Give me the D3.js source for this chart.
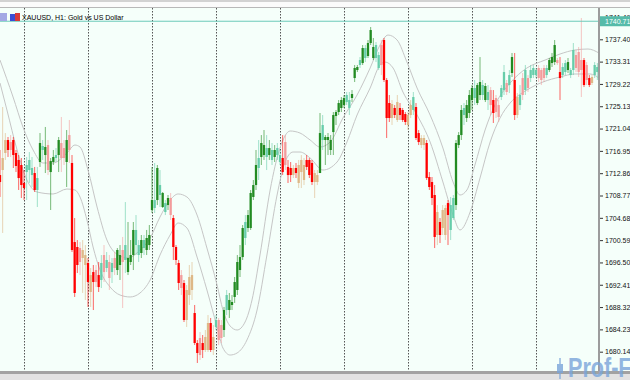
<!DOCTYPE html>
<html>
<head>
<meta charset="utf-8">
<script src="https://cdn.jsdelivr.net/npm/d3@7"></script>
<style>
  body { margin: 0; background: #fff; }
  svg { display: block; }
</style>
</head>
<body>
<svg id="chart" width="630" height="380"></svg>
<script>
// chart title and last price
const chartTitle = "XAUUSD, H1:  Gold vs US Dollar";
const lastPrice = 1740.71;

// price scale labels on the right
const priceTicks = [1741.49, 1737.40, 1733.31, 1729.22, 1725.13, 1721.04, 1716.95, 1712.86,
  1708.77, 1704.68, 1700.59, 1696.50, 1692.41, 1688.32, 1684.23, 1680.14];

// first bar of each day (period separators)
const dayStarts = [9, 33, 57, 81, 105, 129, 153, 177, 201];

// H1 bars
const opens = [
  1712.52, 1713.44, 1716.56, 1718.94, 1718.57, 1718.94, 1716.56, 1715.28, 1714.36, 1711.06,
  1713.07, 1713.44, 1712.52, 1712.89, 1709.78, 1714.91, 1717.11, 1716.19, 1718.02, 1713.07,
  1714.91, 1715.64, 1716.19, 1718.39, 1717.47, 1714.91, 1719.85, 1714.73, 1700.24, 1699.33,
  1699.14, 1697.31, 1696.03, 1696.40, 1691.08, 1694.74, 1695.11, 1694.19, 1693.28, 1697.86,
  1695.48, 1696.58, 1694.74, 1697.31, 1695.11, 1696.03, 1698.78, 1696.95, 1694.74, 1696.58,
  1697.86, 1699.69, 1697.86, 1698.23, 1699.14, 1698.78, 1699.69, 1706.11, 1706.48, 1707.94,
  1708.86, 1706.66, 1705.74, 1707.02, 1708.31, 1704.64, 1699.33, 1696.40, 1694.19, 1692.73,
  1685.95, 1690.53, 1691.45, 1687.23, 1681.73, 1682.65, 1681.73, 1680.45, 1680.45, 1685.40,
  1680.45, 1684.67, 1685.95, 1685.03, 1684.12, 1687.78, 1687.78, 1688.70, 1690.17, 1691.45,
  1695.11, 1697.49, 1700.98, 1702.81, 1702.81, 1708.50, 1710.69, 1713.81, 1715.83, 1716.19,
  1715.83, 1716.19, 1715.28, 1715.83, 1716.19, 1714.91, 1715.64, 1718.57, 1714.00, 1713.81,
  1712.52, 1713.81, 1711.06, 1713.07, 1711.61, 1715.28, 1715.28, 1714.73, 1711.24, 1711.24,
  1712.89, 1718.94, 1718.94, 1718.94, 1717.11, 1720.40, 1723.34, 1724.07, 1724.81, 1725.35,
  1725.90, 1724.81, 1726.64, 1730.30, 1731.77, 1732.69, 1733.05, 1733.97, 1734.34, 1736.72,
  1733.97, 1733.97, 1732.14, 1736.35, 1737.27, 1729.94, 1725.72, 1722.97, 1724.81, 1722.61,
  1724.81, 1724.44, 1723.70, 1721.69, 1723.52, 1724.44, 1724.99, 1720.22, 1718.02, 1718.02,
  1718.39, 1712.16, 1711.24, 1708.86, 1701.53, 1703.91, 1702.81, 1701.53, 1707.39, 1702.45,
  1704.64, 1707.02, 1718.02, 1719.85, 1723.52, 1722.97, 1723.89, 1726.27, 1726.64, 1725.72,
  1727.19, 1727.19, 1726.27, 1726.27, 1728.10, 1726.27, 1726.64, 1725.35, 1726.82, 1728.10,
  1729.39, 1729.02, 1731.22, 1729.94, 1723.52, 1725.35, 1730.30, 1728.10, 1730.30, 1730.30,
  1730.85, 1730.85, 1732.14, 1731.77, 1732.14, 1730.85, 1731.77, 1733.05, 1733.23, 1733.60,
  1731.40, 1730.85, 1731.40, 1731.77, 1730.85, 1731.77, 1734.52, 1735.07, 1733.60, 1733.60,
  1732.69, 1730.30, 1729.39, 1730.85, 1731.40
];
const highs = [
  1717.11, 1724.99, 1720.22, 1719.49, 1719.85, 1719.49, 1717.11, 1716.19, 1715.64, 1713.44,
  1715.83, 1716.74, 1715.83, 1714.00, 1714.00, 1720.22, 1718.94, 1721.33, 1718.94, 1715.64,
  1717.11, 1717.47, 1719.49, 1723.16, 1718.94, 1720.77, 1722.61, 1716.19, 1704.64, 1700.61,
  1700.24, 1700.61, 1699.69, 1697.31, 1695.48, 1696.03, 1696.03, 1696.58, 1697.86, 1699.69,
  1698.41, 1697.86, 1697.31, 1698.41, 1699.14, 1699.69, 1701.17, 1707.57, 1703.91, 1700.61,
  1703.91, 1705.19, 1700.61, 1701.53, 1701.53, 1702.45, 1703.36, 1714.00, 1714.73, 1714.36,
  1713.44, 1709.41, 1707.94, 1708.86, 1709.23, 1705.19, 1699.69, 1696.95, 1695.11, 1693.28,
  1692.36, 1696.03, 1696.58, 1688.70, 1682.28, 1683.75, 1683.20, 1684.12, 1686.86, 1686.32,
  1685.03, 1686.86, 1686.32, 1685.95, 1688.34, 1691.45, 1690.90, 1690.53, 1693.83, 1697.86,
  1699.69, 1703.36, 1705.19, 1706.11, 1709.78, 1711.61, 1717.11, 1718.94, 1719.85, 1720.77,
  1719.85, 1718.94, 1718.39, 1718.02, 1718.39, 1717.11, 1719.85, 1719.85, 1715.28, 1714.91,
  1714.36, 1714.73, 1715.28, 1716.19, 1715.64, 1716.19, 1715.64, 1715.28, 1713.44, 1713.44,
  1723.89, 1723.52, 1719.85, 1720.22, 1719.85, 1724.07, 1724.44, 1726.27, 1726.82, 1727.19,
  1727.74, 1727.74, 1728.10, 1732.69, 1732.69, 1734.15, 1736.35, 1736.35, 1737.27, 1739.65,
  1737.64, 1736.90, 1735.07, 1737.27, 1737.64, 1730.30, 1727.19, 1726.27, 1725.35, 1727.19,
  1725.72, 1724.81, 1724.07, 1724.07, 1726.27, 1727.74, 1725.72, 1720.77, 1719.85, 1719.85,
  1718.94, 1713.07, 1712.16, 1710.69, 1707.02, 1704.64, 1707.02, 1707.02, 1707.94, 1708.50,
  1708.86, 1718.94, 1720.40, 1725.35, 1725.72, 1726.27, 1728.10, 1729.02, 1729.94, 1729.39,
  1734.15, 1729.94, 1729.39, 1729.02, 1728.65, 1728.10, 1727.19, 1726.27, 1729.02, 1732.69,
  1729.94, 1731.77, 1734.89, 1734.89, 1727.55, 1729.02, 1731.22, 1732.69, 1730.85, 1732.69,
  1732.69, 1732.14, 1732.69, 1732.14, 1732.69, 1732.69, 1733.97, 1734.89, 1737.27, 1733.97,
  1734.15, 1733.05, 1733.60, 1733.97, 1732.14, 1736.72, 1735.44, 1735.99, 1741.30, 1733.97,
  1733.23, 1730.85, 1730.85, 1733.23, 1733.05
];
const lows = [
  1708.50, 1701.90, 1715.28, 1715.83, 1715.83, 1713.81, 1713.07, 1709.78, 1708.31, 1707.94,
  1707.94, 1711.06, 1710.33, 1709.41, 1706.66, 1714.00, 1715.28, 1712.89, 1712.52, 1706.11,
  1714.36, 1714.91, 1713.07, 1713.07, 1714.36, 1710.33, 1714.73, 1698.41, 1690.17, 1694.56,
  1694.19, 1690.90, 1689.62, 1688.34, 1688.34, 1687.78, 1691.99, 1691.08, 1691.81, 1692.91,
  1694.74, 1691.45, 1692.73, 1694.19, 1694.19, 1693.28, 1688.15, 1694.56, 1694.19, 1696.03,
  1695.11, 1697.86, 1696.58, 1697.31, 1697.86, 1697.86, 1698.78, 1705.56, 1705.56, 1707.02,
  1706.66, 1706.48, 1705.19, 1706.11, 1704.28, 1696.95, 1696.03, 1691.45, 1690.53, 1685.58,
  1684.67, 1688.70, 1689.62, 1681.36, 1678.07, 1678.62, 1678.98, 1680.08, 1680.08, 1680.08,
  1679.53, 1684.12, 1681.36, 1681.73, 1682.84, 1686.86, 1686.32, 1687.78, 1689.07, 1690.53,
  1693.83, 1696.95, 1699.69, 1702.08, 1702.45, 1707.94, 1709.78, 1711.61, 1714.36, 1715.28,
  1713.44, 1715.28, 1714.36, 1714.91, 1715.28, 1714.36, 1712.52, 1713.44, 1711.06, 1711.24,
  1711.97, 1711.97, 1710.14, 1710.14, 1710.69, 1713.44, 1711.97, 1710.69, 1708.31, 1710.69,
  1712.89, 1717.11, 1714.36, 1716.19, 1716.19, 1716.19, 1721.69, 1723.52, 1724.07, 1724.81,
  1725.35, 1723.52, 1725.90, 1729.57, 1731.40, 1732.14, 1732.69, 1733.23, 1733.97, 1736.35,
  1733.60, 1733.23, 1731.77, 1730.85, 1729.57, 1719.31, 1722.24, 1721.69, 1722.97, 1722.24,
  1722.61, 1722.24, 1721.69, 1720.77, 1722.97, 1723.52, 1718.94, 1718.02, 1717.47, 1717.11,
  1711.61, 1709.78, 1707.02, 1699.14, 1699.69, 1700.06, 1701.53, 1700.61, 1699.69, 1700.61,
  1704.28, 1706.11, 1717.47, 1718.94, 1721.69, 1722.24, 1722.97, 1724.44, 1725.35, 1725.35,
  1726.27, 1726.27, 1725.90, 1724.44, 1723.52, 1722.06, 1722.97, 1722.24, 1726.27, 1727.19,
  1727.19, 1727.55, 1730.49, 1722.61, 1722.97, 1724.44, 1726.27, 1727.19, 1727.74, 1729.57,
  1730.30, 1730.30, 1729.57, 1729.02, 1729.57, 1730.30, 1731.40, 1732.32, 1732.69, 1732.69,
  1726.27, 1730.30, 1730.85, 1731.22, 1730.30, 1730.85, 1731.40, 1730.49, 1726.82, 1728.65,
  1729.02, 1728.65, 1729.02, 1730.30, 1729.94
];
const closes = [
  1711.24, 1715.64, 1718.94, 1717.11, 1717.11, 1716.19, 1714.18, 1711.97, 1710.69, 1710.14,
  1714.36, 1715.28, 1713.81, 1709.78, 1711.97, 1718.39, 1717.84, 1717.66, 1713.44, 1715.10,
  1715.83, 1716.19, 1718.94, 1715.64, 1715.64, 1718.94, 1717.11, 1698.78, 1690.90, 1696.03,
  1696.58, 1698.78, 1697.86, 1692.91, 1694.19, 1692.91, 1692.91, 1691.99, 1696.40, 1694.74,
  1696.95, 1693.65, 1696.40, 1695.48, 1698.78, 1697.86, 1696.58, 1699.69, 1697.31, 1697.86,
  1702.45, 1702.45, 1699.69, 1700.61, 1700.61, 1700.98, 1701.53, 1707.94, 1707.94, 1713.81,
  1710.69, 1709.23, 1707.39, 1708.31, 1705.19, 1699.33, 1696.95, 1692.73, 1691.81, 1685.95,
  1691.45, 1693.83, 1694.19, 1681.73, 1679.90, 1679.53, 1680.45, 1682.84, 1685.40, 1680.45,
  1682.84, 1685.95, 1682.28, 1682.65, 1687.78, 1690.53, 1689.62, 1689.25, 1692.91, 1696.58,
  1697.49, 1702.81, 1703.91, 1705.19, 1709.23, 1710.69, 1714.36, 1715.64, 1718.39, 1718.02,
  1717.47, 1717.47, 1717.11, 1717.11, 1717.47, 1716.19, 1713.07, 1714.36, 1712.52, 1712.52,
  1713.81, 1712.89, 1714.36, 1715.28, 1714.36, 1714.00, 1712.52, 1711.24, 1712.89, 1712.52,
  1720.22, 1721.69, 1719.49, 1719.49, 1718.94, 1723.52, 1724.07, 1725.72, 1726.27, 1726.64,
  1727.19, 1726.27, 1727.37, 1732.14, 1732.32, 1733.60, 1735.80, 1735.80, 1736.72, 1739.10,
  1735.99, 1736.35, 1734.52, 1732.69, 1729.94, 1722.97, 1722.97, 1725.54, 1723.52, 1725.90,
  1723.52, 1722.61, 1722.24, 1723.52, 1725.35, 1726.82, 1719.31, 1718.57, 1719.31, 1719.31,
  1711.97, 1710.33, 1708.31, 1701.17, 1705.74, 1701.53, 1706.11, 1706.48, 1705.19, 1707.02,
  1708.31, 1718.39, 1719.85, 1724.44, 1724.81, 1725.35, 1727.19, 1728.47, 1728.47, 1729.02,
  1729.57, 1729.02, 1728.84, 1727.74, 1725.35, 1723.89, 1724.07, 1723.16, 1728.47, 1731.40,
  1727.74, 1730.85, 1734.15, 1723.52, 1726.82, 1727.19, 1727.19, 1731.77, 1728.47, 1731.77,
  1732.14, 1731.77, 1730.30, 1729.94, 1730.30, 1732.14, 1733.60, 1734.15, 1736.35, 1733.05,
  1730.30, 1732.32, 1733.05, 1733.23, 1731.77, 1735.44, 1732.14, 1731.40, 1731.77, 1729.02,
  1729.94, 1729.02, 1730.49, 1732.69, 1732.32
];
// bar colour class: G green, T aquamarine, R red, P pink, N burlywood
const kinds = (
  "RNNRPRRRRR" + "TTTRTGTGPG" + "GTGPPGPRRR" + "PNNRNRPRTP" + "TPTPGGPTGG" +
  "GTTGTGGGTG" + "TGTGPRRRPR" + "NNNRRPRNNR" + "NTPPGTGGGG" + "GGTGGGGTGG" +
  "TGTGTTRPRR" + "NRNNNRRRNN" + "GTGGGGGGGG" + "TTGGGTGTGG" + "GTTPRRRNRN" +
  "RRRNNTRRNN" + "RRRRNRNNRT" + "TGGGTGGGTG" + "GTGTPRPPTT" + "PTGRNTPTPT" +
  "TTPPPTGGGP" + "RTTGTTPPPR" + "PRNTT").split("");

// envelope bands (bar index, price)
const upperIdx = [0, 4.9, 8.6, 12.4, 16.1, 19.9, 25.1, 28.1, 30, 33, 36.4, 40.1, 44.3, 48, 52.5, 56.3,
  60, 63.8, 66.8, 70.1, 73.9, 77.6, 81.4, 83.6, 86.3, 88.9, 91.9, 94.5, 97.5, 101.3, 105, 108.8,
  112.5, 116.3, 120, 123.8, 128.6, 133.9, 138.8, 142.5, 145.5, 148.9, 152.6, 156.4, 161.3, 166.1,
  169.9, 172.5, 175.1, 178.1, 181.9, 185.6, 191.3, 197.6, 204.4, 210, 215.6, 220.5, 224.6];
const upperBand = [1733.60, 1726.82, 1721.33, 1717.11, 1714.73, 1714.73, 1716.56, 1718.02, 1717.66,
  1713.44, 1706.66, 1700.61, 1697.86, 1697.31, 1698.78, 1700.98, 1704.83, 1707.94, 1709.05, 1708.50,
  1705.19, 1699.14, 1692.36, 1687.78, 1684.85, 1684.12, 1685.58, 1689.62, 1697.86, 1709.78, 1717.47,
  1720.59, 1720.22, 1718.94, 1717.66, 1718.57, 1722.97, 1727.19, 1732.14, 1736.35, 1738.18, 1737.27,
  1733.23, 1728.47, 1723.52, 1717.47, 1711.24, 1708.86, 1709.78, 1714.36, 1720.77, 1725.35, 1729.39,
  1732.14, 1733.60, 1734.70, 1735.44, 1735.62, 1734.89];
const lowerIdx = [0, 2.6, 6.4, 10.1, 13.9, 19.9, 25.1, 28.1, 30, 32.6, 34.9, 37.5, 41.3, 45, 48.8,
  52.5, 56.3, 60, 63.8, 66.8, 70.1, 73.9, 77.6, 81.4, 83.6, 86.3, 88.9, 92.6, 96.4, 100.1, 103.9,
  106.9, 109.9, 112.5, 116.3, 121.1, 126.4, 130.1, 133.9, 138.8, 142.5, 144.4, 147.4, 151.1, 156.4,
  161.3, 166.1, 169.9, 172.5, 176.3, 180, 183.8, 187.5, 191.3, 197.6, 203.6, 210, 215.6, 221.3, 224.6];
const lowerBand = [1729.39, 1724.44, 1717.11, 1711.61, 1709.41, 1709.05, 1709.96, 1709.78, 1708.50,
  1704.28, 1699.33, 1695.11, 1691.99, 1690.53, 1690.17, 1690.90, 1693.28, 1697.86, 1701.53, 1703.73,
  1702.81, 1697.49, 1691.45, 1684.67, 1680.82, 1679.53, 1679.90, 1682.28, 1687.78, 1697.86, 1708.86,
  1714.91, 1716.74, 1716.74, 1715.64, 1713.44, 1714.91, 1718.57, 1723.52, 1728.47, 1732.69, 1733.23,
  1732.14, 1727.74, 1723.52, 1718.57, 1711.24, 1705.19, 1702.45, 1705.74, 1711.97, 1718.57, 1722.97,
  1725.72, 1728.10, 1729.57, 1730.49, 1731.04, 1731.04, 1730.30];

const colors = {G: "#228b22", T: "#66cdaa", R: "#ff0000", P: "#f39c9c", N: "#deb887"};
const font = "'Liberation Sans', Arial, sans-serif";

const W = 630, H = 380;
const plotTop = 8, plotBottom = 371, plotRight = 599;

const svg = d3.select("#chart");

// scales: 225 bars across the plot, price on the right axis
const x = d3.scaleLinear().domain([0, 225]).range([0, 600]);
const y = d3.scaleLinear().domain([1680.14, 1737.40]).range([351.7, 39.3]);

// background + window frame
svg.append("rect").attr("width", W).attr("height", H).attr("fill", "#f5fffa");
svg.append("rect").attr("width", W).attr("height", 2).attr("fill", "#d2d2d2");
svg.append("rect").attr("y", 2).attr("width", W).attr("height", 5).attr("fill", "#fbfbfb");
svg.append("rect").attr("y", 7).attr("width", W).attr("height", 1).attr("fill", "#b8b8b8");
svg.append("rect").attr("y", plotBottom).attr("width", W).attr("height", 3).attr("fill", "#a2a2a2");
svg.append("rect").attr("y", plotBottom + 3).attr("width", W).attr("height", H - plotBottom - 3).attr("fill", "#e2e2e2");

svg.append("clipPath").attr("id", "plotClip")
  .append("rect").attr("x", 0).attr("y", plotTop)
  .attr("width", plotRight).attr("height", plotBottom - plotTop);

const plot = svg.append("g").attr("clip-path", "url(#plotClip)");

// period separators
plot.selectAll(".sep")
  .data(dayStarts)
  .enter()
  .append("line")
    .attr("x1", d => Math.round(x(d)) + 0.5)
    .attr("x2", d => Math.round(x(d)) + 0.5)
    .attr("y1", plotTop)
    .attr("y2", plotBottom)
    .attr("stroke", "#555")
    .attr("stroke-width", 1)
    .attr("stroke-dasharray", "1.5,1.5");

// bands
const bandLine = d3.line()
  .x(d => x(d[0]))
  .y(d => y(d[1]))
  .curve(d3.curveMonotoneX);

plot.append("path")
  .datum(upperIdx.map((d, i) => [d, upperBand[i]]))
  .attr("fill", "none")
  .attr("stroke", "#c6c6c6")
  .attr("stroke-width", 1)
  .attr("d", bandLine);

plot.append("path")
  .datum(lowerIdx.map((d, i) => [d, lowerBand[i]]))
  .attr("fill", "none")
  .attr("stroke", "#c6c6c6")
  .attr("stroke-width", 1)
  .attr("d", bandLine);

// candles
const bars = opens.map((o, i) => ({i: i, o: o, h: highs[i], l: lows[i], c: closes[i], k: kinds[i]}));

const candle = plot.append("g")
  .selectAll("g")
  .data(bars)
  .enter()
  .append("g");

candle.append("line")
  .attr("x1", d => x(d.i))
  .attr("x2", d => x(d.i))
  .attr("y1", d => y(d.h))
  .attr("y2", d => y(d.l))
  .attr("stroke", d => colors[d.k])
  .attr("stroke-opacity", 0.6)
  .attr("stroke-width", 1);

candle.append("rect")
  .attr("x", d => x(d.i) - 1.15)
  .attr("width", 2.3)
  .attr("y", d => y(Math.max(d.o, d.c)))
  .attr("height", d => Math.max(1, y(Math.min(d.o, d.c)) - y(Math.max(d.o, d.c))))
  .attr("fill", d => colors[d.k]);

// bid line
plot.append("line")
  .attr("x1", 0).attr("x2", plotRight)
  .attr("y1", y(lastPrice)).attr("y2", y(lastPrice))
  .attr("stroke", "#6ccab9")
  .attr("stroke-width", 1);

// right price axis
svg.append("rect").attr("x", 598).attr("y", plotTop).attr("width", 2)
  .attr("height", plotBottom - plotTop).attr("fill", "#9c9c9c");

const axis = d3.axisRight(y)
  .tickValues(priceTicks)
  .tickFormat(d3.format(".2f"))
  .tickSize(3)
  .tickPadding(2)
  .tickSizeOuter(0);

const gAxis = svg.append("g")
  .attr("transform", "translate(600,0)")
  .call(axis);
gAxis.select(".domain").remove();
gAxis.attr("font-family", font).attr("font-size", 7);
gAxis.selectAll("line").attr("stroke", "#333");
gAxis.selectAll("text").attr("fill", "#111");

// last price tag
svg.append("rect")
  .attr("x", 600).attr("y", y(lastPrice) - 5)
  .attr("width", 30).attr("height", 10)
  .attr("fill", "#55bba9");
svg.append("text")
  .attr("x", 605).attr("y", y(lastPrice))
  .attr("dy", "0.35em")
  .attr("font-family", font).attr("font-size", 7)
  .attr("fill", "#fff")
  .text(d3.format(".2f")(lastPrice));

// title with small icon
svg.append("rect").attr("x", 0).attr("y", 13).attr("width", 7).attr("height", 8).attr("fill", "#a4a8e4");
svg.append("rect").attr("x", 10).attr("y", 14).attr("width", 5).attr("height", 7).attr("fill", "#3a4fd6");
svg.append("rect").attr("x", 15).attr("y", 13).attr("width", 5).attr("height", 8).attr("fill", "#d83a3a");
svg.append("text")
  .attr("x", 22).attr("y", 20)
  .attr("font-family", font).attr("font-size", 7)
  .attr("fill", "#000")
  .text(chartTitle);

// watermark, bottom right (runs off the edge like the original)
const wm = svg.append("g").attr("opacity", 0.8);
wm.append("line").attr("x1", 560).attr("x2", 560).attr("y1", 358).attr("y2", 379)
  .attr("stroke", "#7aa5da").attr("stroke-width", 1.5);
wm.append("rect").attr("x", 557).attr("y", 364).attr("width", 6).attr("height", 9).attr("fill", "#7aa5da");
wm.append("text")
  .attr("transform", "translate(568,377) scale(0.8,1)")
  .attr("font-family", font).attr("font-size", 27).attr("font-weight", "bold")
  .attr("fill", "#7aa5da")
  .text("Prof-FX");
</script>
</body>
</html>
